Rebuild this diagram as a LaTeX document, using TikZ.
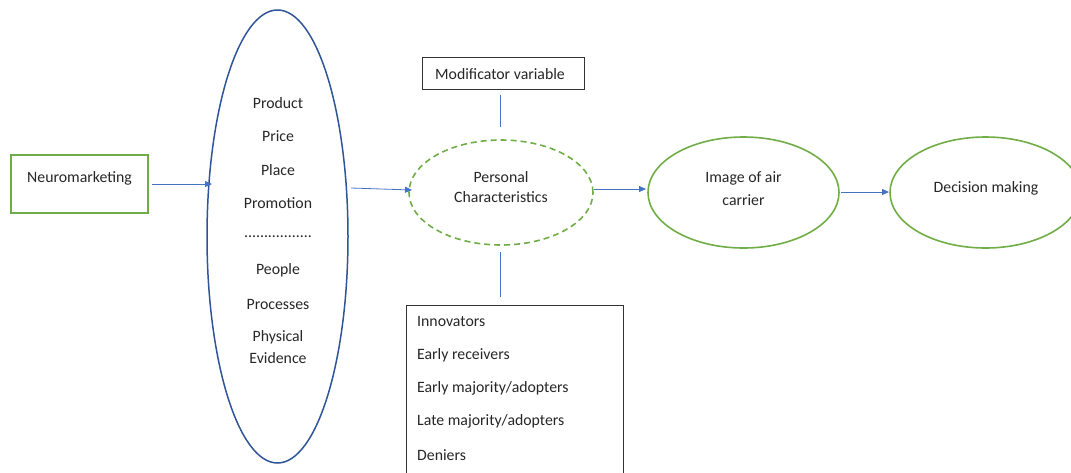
\documentclass[tikz,border=0pt]{standalone}
\usepackage{fontspec}
\setmainfont{Carlito}
\usetikzlibrary{arrows.meta,shapes.geometric}
\definecolor{mgreen}{HTML}{70AD47}
\definecolor{mblue}{HTML}{2F5597}
\definecolor{larrow}{HTML}{4472C4}
\begin{document}
\begin{tikzpicture}[x=1pt,y=-1pt,
  every node/.style={font=\fontsize{15.8}{18}\selectfont, text=black!85},
  gbox/.style={draw=mgreen, line width=1.6pt, minimum width=137pt, minimum height=58pt, inner sep=0pt},
  kbox/.style={draw=black!80, line width=0.9pt, inner sep=0pt},
  gell/.style={ellipse, draw=mgreen, line width=1.6pt, inner sep=0pt},
  conn/.style={draw=larrow, line width=0.8pt, -{Triangle[length=7pt,width=6pt]}},
  plain/.style={draw=larrow, line width=0.8pt},
  lbl/.style={inner sep=0pt, anchor=center}
]
\useasboundingbox (0,0) rectangle (1071,472);
\clip (0,0) rectangle (1071,472);
% Neuromarketing
\node[gbox] (neuro) at (79.5,184) {};
\node[lbl] (neurot) at (79.5,178) {Neuromarketing};
% big blue ellipse
\node[ellipse, draw=mblue, line width=1.5pt, minimum width=141pt, minimum height=453pt, inner sep=0pt] (mix) at (277.5,236.5) {};
\node[lbl] (t1) at (278,103) {Product};
\node[lbl] (t2) at (278,136) {Price};
\node[lbl] (t3) at (278,170) {Place};
\node[lbl] (t4) at (278,203) {Promotion};
\node[lbl] (t5) at (278,237) {.................};
\node[lbl] (t6) at (278,270) {People};
\node[lbl] (t7) at (278,304) {Processes};
\node[lbl] (t8) at (278,337) {Physical};
\node[lbl] (t9) at (278,358) {Evidence};
% Modificator
\node[kbox, minimum width=162pt, minimum height=32pt] (mod) at (503,73) {};
\node[lbl] (modt) at (500,74) {Modificator variable};
% personal dashed ellipse
\node[gell, dashed, dash pattern=on 6pt off 4pt, minimum width=184pt, minimum height=105pt] (pers) at (501,192.5) {};
\node[lbl] (p1) at (501,177) {Personal};
\node[lbl] (p2) at (501,197) {Characteristics};
% bottom list box
\node[kbox, minimum width=217pt, minimum height=200pt, anchor=north west] (list) at (406,305) {};
\node[lbl, anchor=west] (l1) at (417,321) {Innovators};
\node[lbl, anchor=west] (l2) at (417,355) {Early receivers};
\node[lbl, anchor=west] (l3) at (417,388) {Early majority/adopters};
\node[lbl, anchor=west] (l4) at (417,421) {Late majority/adopters};
\node[lbl, anchor=west] (l5) at (417,455) {Deniers};
% image
\node[gell, minimum width=191pt, minimum height=111pt] (img) at (743.5,192.5) {};
\node[lbl] (i1) at (743.5,178) {Image of air};
\node[lbl] (i2) at (743.5,200) {carrier};
% decision
\node[gell, minimum width=191pt, minimum height=111pt] (dec) at (985.5,192.5) {};
\node[lbl] (dect) at (986,188) {Decision making};
% connectors
\coordinate (a1s) at (152,184);
\coordinate (a1e) at (212,184);
\draw[conn] (a1s) -- (a1e);
\coordinate (a2s) at (351,188);
\coordinate (a2e) at (412,190);
\draw[conn] (a2s) -- (a2e);
\coordinate (a3s) at (594,189);
\coordinate (a3e) at (646,189);
\draw[conn] (a3s) -- (a3e);
\coordinate (a4s) at (841,192);
\coordinate (a4e) at (889,192);
\draw[conn] (a4s) -- (a4e);
\coordinate (m1) at (500,95);
\coordinate (m2) at (500,127);
\draw[plain] (m1) -- (m2);
\coordinate (m3) at (500,252);
\coordinate (m4) at (500,297);
\draw[plain] (m3) -- (m4);
\end{tikzpicture}
\end{document}
